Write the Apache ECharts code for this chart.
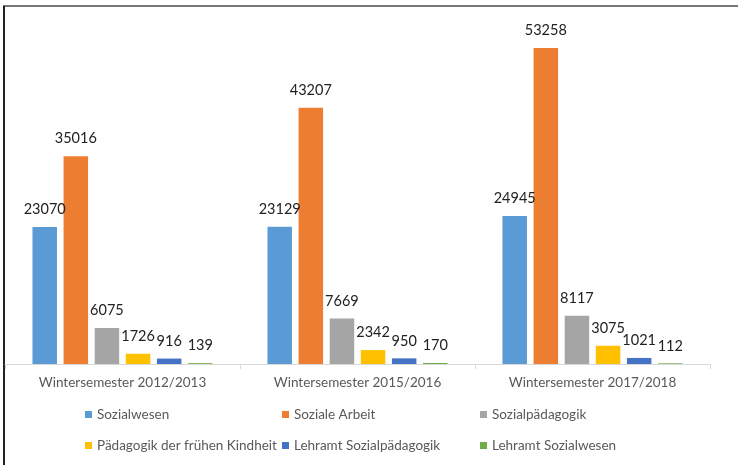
<!DOCTYPE html>
<html>
<head>
<meta charset="utf-8">
<script src="https://cdn.jsdelivr.net/npm/echarts@6/dist/echarts.min.js"></script>
<style>
  html, body { margin: 0; padding: 0; background: #fff; }
  #chart { width: 738px; height: 465px; }
</style>
</head>
<body>
<div id="chart"></div>
<script>
const semesters = ['Wintersemester 2012/2013', 'Wintersemester 2015/2016', 'Wintersemester 2017/2018']
const seriesNames = [
  'Sozialwesen', 'Soziale Arbeit', 'Sozialpädagogik',
  'Pädagogik der frühen Kindheit', 'Lehramt Sozialpädagogik', 'Lehramt Sozialwesen'
]
const sozialwesen = [23070, 23129, 24945]
const sozialeArbeit = [35016, 43207, 53258]
const sozialpaedagogik = [6075, 7669, 8117]
const fruehKindheit = [1726, 2342, 3075]
const lehramtSozPaed = [916, 950, 1021]
const lehramtSozialwesen = [139, 170, 112]

const values = [sozialwesen, sozialeArbeit, sozialpaedagogik, fruehKindheit, lehramtSozPaed, lehramtSozialwesen]
const colors = ['#5B9BD5', '#ED7D31', '#A5A5A5', '#FFC000', '#4472C4', '#70AD47']
const font = 'Lato, "Liberation Sans", sans-serif'

const chart = echarts.init(document.getElementById('chart'))

// legend is a 3x2 grid, so one vertical legend per column
const legendCol = (names, left) => ({
  orient: 'vertical',
  left: left,
  top: 406.5,
  padding: 0,
  itemGap: 15,
  itemWidth: 7,
  itemHeight: 7,
  icon: 'rect',
  data: names,
  textStyle: { fontFamily: font, fontSize: 13.5, color: '#595959', lineHeight: 16 }
})

chart.setOption({
  animation: false,
  color: colors,
  grid: { left: 5, right: 28, top: 8, bottom: 101, containLabel: false },
  legend: [
    legendCol([seriesNames[0], seriesNames[3]], 85),
    legendCol([seriesNames[1], seriesNames[4]], 282),
    legendCol([seriesNames[2], seriesNames[5]], 480)
  ],
  xAxis: {
    type: 'category',
    data: semesters,
    axisLine: { lineStyle: { color: '#D9D9D9', width: 1 } },
    axisTick: { show: true, length: 5, lineStyle: { color: '#D9D9D9' } },
    axisLabel: { margin: 12, fontFamily: font, fontSize: 13.5, color: '#595959' }
  },
  yAxis: { type: 'value', min: 0, max: 60000, show: false },
  series: values.map((v, i) => ({
    name: seriesNames[i],
    type: 'bar',
    data: v,
    barWidth: 24.5,
    barGap: '27%',
    label: {
      show: true,
      position: 'top',
      distance: 10,
      fontFamily: font,
      fontSize: 14.5,
      color: '#222'
    }
  })),
  graphic: [
    { type: 'line', shape: { x1: 3, y1: 6, x2: 738, y2: 6 }, style: { stroke: '#777', lineWidth: 2 } },
    { type: 'line', shape: { x1: 4, y1: 6, x2: 4, y2: 465 }, style: { stroke: '#222', lineWidth: 2 } }
  ]
})
</script>
</body>
</html>
